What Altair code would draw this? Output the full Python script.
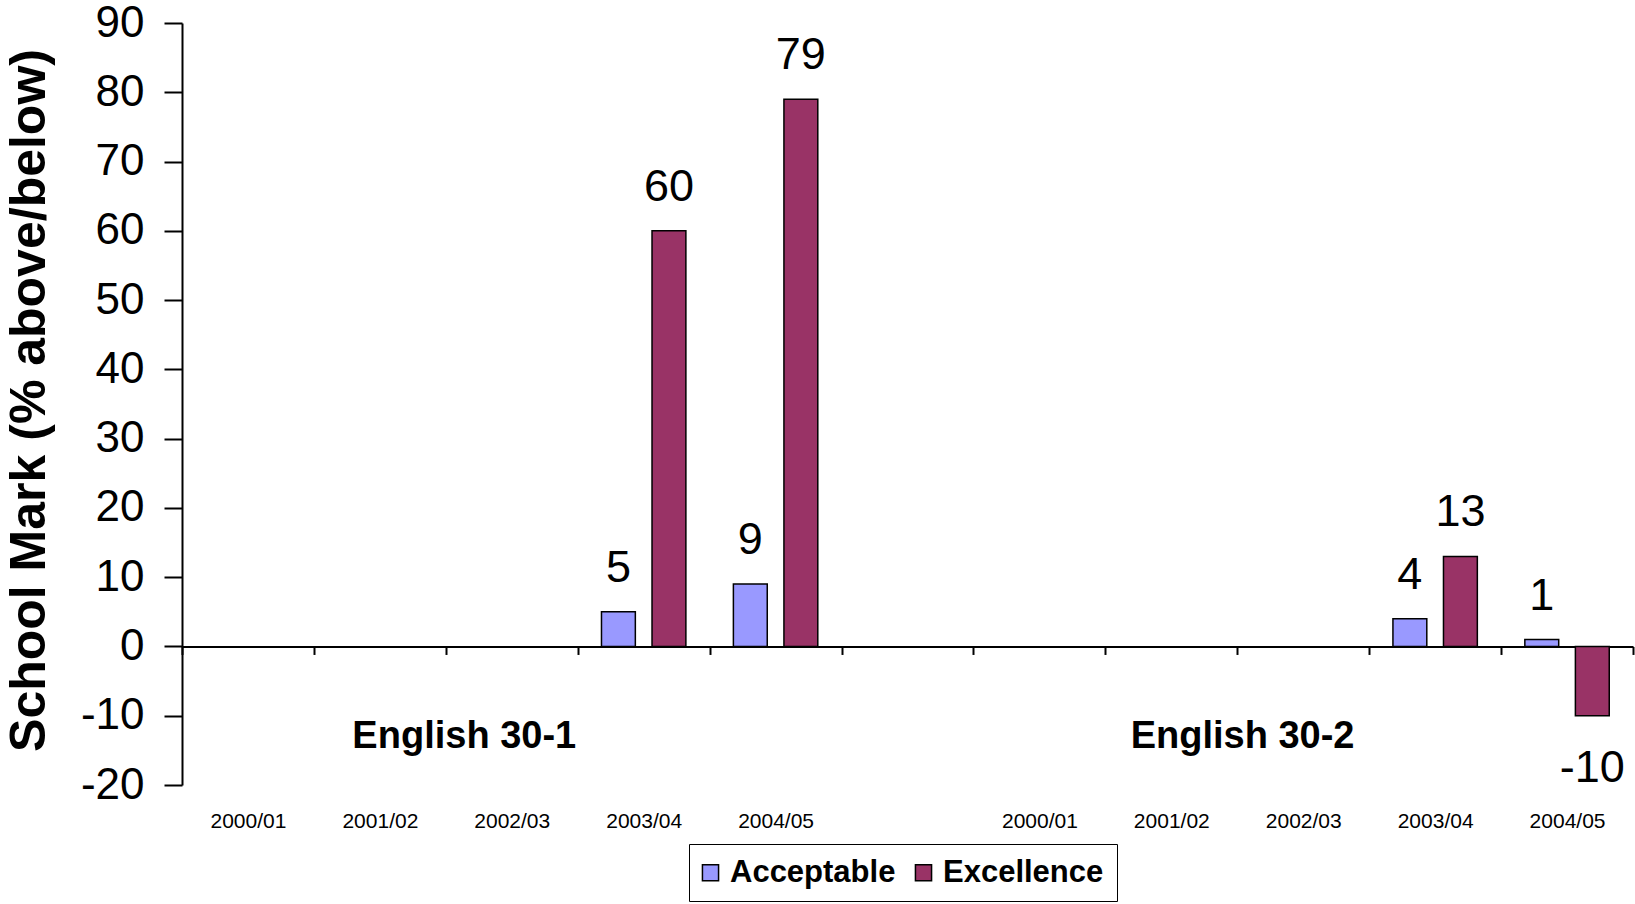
import altair as alt
import pandas as pd

# School mark deviation by course and school year
years = ["2000/01", "2001/02", "2002/03", "2003/04", "2004/05"]
subjects = ["English 30-1", "English 30-2"]
series = ["Acceptable", "Excellence"]
series_colors = ["#9999FF", "#993366"]

acceptable_30_1 = [None, None, None, 5, 9]
excellence_30_1 = [None, None, None, 60, 79]
acceptable_30_2 = [None, None, None, 4, 1]
excellence_30_2 = [None, None, None, 13, -10]

y_ticks = list(range(-20, 91, 10))

# category slots: five years per course with an empty slot between the courses
slots = [f"{subjects[0]}|{y}" for y in years] + ["|"] + [f"{subjects[1]}|{y}" for y in years]

rows = []
for subject, acc, exc in [(subjects[0], acceptable_30_1, excellence_30_1),
                          (subjects[1], acceptable_30_2, excellence_30_2)]:
    for year, a, e in zip(years, acc, exc):
        for name, v in [(series[0], a), (series[1], e)]:
            if v is not None:
                rows.append({"slot": f"{subject}|{year}", "series": name, "value": v})
df = pd.DataFrame(rows)

W, H = 1451, 762
y_min, y_max = y_ticks[0], y_ticks[-1]
zero_from_bottom = H * (0 - y_min) / (y_max - y_min)

FONT = "Liberation Sans, Arial, sans-serif"

x_enc = alt.X(
    "slot:N",
    scale=alt.Scale(domain=slots, paddingInner=0, paddingOuter=0),
    axis=alt.Axis(
        title=None,
        offset=-zero_from_bottom,
        tickBand="extent",
        tickSize=8,
        tickWidth=2,
        tickColor="black",
        domainColor="black",
        domainWidth=2,
        labelAngle=0,
        labelPadding=156,
        labelFont=FONT,
        labelFontSize=21,
        labelColor="black",
        labelExpr="split(datum.value, '|')[1]",
    ),
)
xoff_enc = alt.XOffset(
    "series:N",
    scale=alt.Scale(domain=series, paddingInner=0.33, paddingOuter=0.47),
)
y_enc = alt.Y(
    "value:Q",
    scale=alt.Scale(domain=[y_min, y_max], nice=False, zero=False),
    axis=alt.Axis(
        values=y_ticks,
        title="School Mark (% above/below)",
        titleFont=FONT,
        titleFontSize=50,
        titleFontWeight="bold",
        titleColor="black",
        titleAngle=270,
        titleAlign="center",
        titleBaseline="middle",
        titleX=-153,
        titleY=H / 2 - 4,
        labelFont=FONT,
        labelFontSize=44,
        labelColor="black",
        labelPadding=20,
        labelExpr="toString(datum.value)",
        tickSize=18,
        tickWidth=2,
        tickColor="black",
        domainColor="black",
        domainWidth=2,
        grid=False,
    ),
)

base = alt.Chart(df).transform_calculate(value_text="toString(datum.value)")

bars = base.mark_bar(stroke="black", strokeWidth=1.5).encode(
    x=x_enc,
    xOffset=xoff_enc,
    y=y_enc,
    color=alt.Color(
        "series:N",
        scale=alt.Scale(domain=series, range=series_colors),
        legend=alt.Legend(
            title=None,
            orient="none",
            direction="horizontal",
            legendX=507,
            legendY=821,
            strokeColor="black",
            padding=13,
            symbolType="square",
            symbolSize=260,
            symbolOffset=-7,
            symbolStrokeColor="black",
            symbolStrokeWidth=1.5,
            symbolOpacity=1,
            labelFont=FONT,
            labelFontSize=31,
            labelFontWeight="bold",
            labelColor="black",
            labelOffset=4,
            labelLimit=400,
            columnPadding=16,
        ),
    ),
)

pos_labels = base.transform_filter("datum.value >= 0").mark_text(
    font=FONT, fontSize=45, color="black", baseline="alphabetic", dy=-30
).encode(x=x_enc, xOffset=xoff_enc, y=y_enc, text="value_text:N")

neg_labels = base.transform_filter("datum.value < 0").mark_text(
    font=FONT, fontSize=45, color="black", baseline="alphabetic", dy=66
).encode(x=x_enc, xOffset=xoff_enc, y=y_enc, text="value_text:N")

# course names written below the zero line
course_df = pd.DataFrame({
    "slot": [f"{subjects[0]}|{years[2]}", f"{subjects[1]}|{years[2]}"],
    "label": subjects,
    "value": [-13, -13],
})
course_positions = [0.14, 0.04]
course_layers = []
for i in range(2):
    course_layers.append(
        alt.Chart(course_df.iloc[[i]]).mark_text(
            font=FONT, fontSize=38, fontWeight="bold", color="black", baseline="middle"
        ).encode(
            x=alt.X("slot:N", bandPosition=course_positions[i],
                    scale=alt.Scale(domain=slots, paddingInner=0, paddingOuter=0)),
            y=alt.Y("value:Q"),
            text="label:N",
        )
    )

chart = alt.layer(bars, pos_labels, neg_labels, *course_layers).properties(
    width=W,
    height=H,
    autosize=alt.AutoSizeParams(type="none"),
    padding={"left": 182, "top": 23, "right": 2, "bottom": 904 - 23 - H},
    background="white",
).configure_view(stroke=None)

chart.save("out.html", embed_options={"renderer": "svg", "actions": False})
